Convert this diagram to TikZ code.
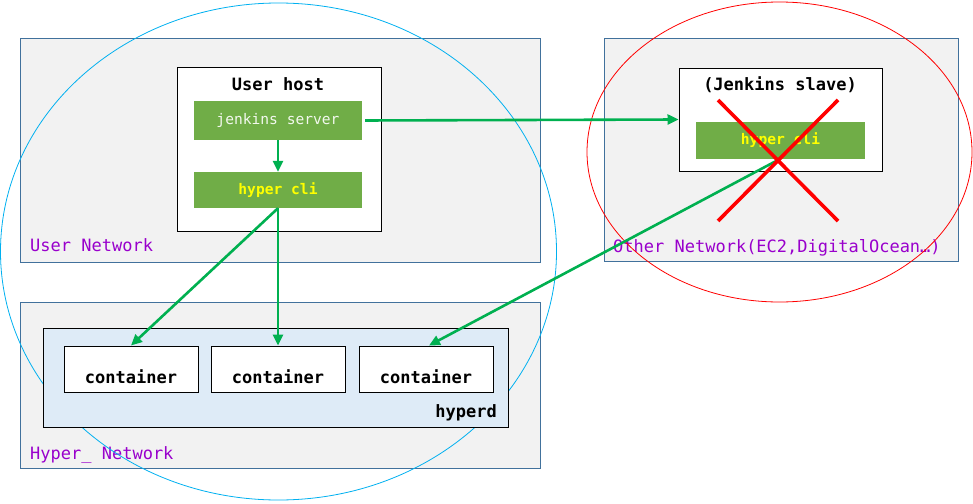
\documentclass[tikz,border=0pt]{standalone}
\usepackage{fontspec}
\setmonofont{DejaVu Sans Mono}
\usetikzlibrary{arrows.meta}
\definecolor{netfill}{HTML}{F2F2F2}
\definecolor{netdraw}{HTML}{41719C}
\definecolor{grn}{HTML}{70AD47}
\definecolor{arr}{HTML}{00B050}
\definecolor{purp}{HTML}{9900CC}
\definecolor{hypfill}{HTML}{DEEBF7}
\definecolor{cyanell}{HTML}{00B0F0}
\definecolor{lightw}{HTML}{F2F8EE}
\definecolor{yel}{HTML}{FFFF00}
\tikzset{
  net/.style={draw=netdraw, fill=netfill, line width=0.9pt, inner sep=0pt},
  whitebox/.style={draw=black, fill=white, line width=1pt, inner sep=0pt},
  greenbox/.style={fill=grn, inner sep=0pt},
  netlabel/.style={anchor=base west, text=purp, font=\ttfamily\fontsize{17}{20}\selectfont, inner sep=0pt},
  boldtxt/.style={font=\ttfamily\bfseries\fontsize{17}{20}\selectfont, inner sep=0pt},
  flow/.style={draw=arr, line width=2.6pt, -{Triangle[length=11pt,width=10pt]}},
  cross/.style={draw=red, line width=3.6pt},
}
\begin{document}
\begin{tikzpicture}[x=1pt,y=-1pt]
\useasboundingbox (0,0) rectangle (973,503);
% networks
\node[net, minimum width=520pt, minimum height=224pt] (usernet) at (280,150) {};
\node[net, minimum width=354pt, minimum height=223pt] (othernet) at (781,149.5) {};
\node[net, minimum width=520pt, minimum height=166pt] (hypernet) at (280,385) {};
\node[netlabel] (usernetl) at (30,251) {User Network};
\node[netlabel] (othernetl) at (613,252) {Other Network(EC2,DigitalOcean…)};
\node[netlabel] (hypernetl) at (30,459) {Hyper\_ Network};
% ellipses
\draw[cyanell, line width=0.8pt] (278.5,251.5) ellipse [x radius=278, y radius=248.5];
\draw[red, line width=0.8pt] (779.5,152) ellipse [x radius=192.5, y radius=150];
% user host
\node[whitebox, minimum width=204pt, minimum height=164pt] (userhost) at (279,149) {};
\node[boldtxt] (userhostl) at (278,84) {User host};
\node[greenbox, minimum width=168pt, minimum height=39pt, text=lightw, font=\ttfamily\fontsize{14.6}{17}\selectfont] (js) at (278,120.5) {jenkins server};
\node[greenbox, minimum width=168pt, minimum height=36pt, text=yel, font=\ttfamily\bfseries\fontsize{14.6}{17}\selectfont] (hc) at (278,190) {hyper cli};
% jenkins slave
\node[whitebox, minimum width=203pt, minimum height=103pt] (slave) at (780.5,119.5) {};
\node[boldtxt] (slavel) at (780,85) {(Jenkins slave)};
\node[greenbox, minimum width=169pt, minimum height=37pt, text=yel, font=\ttfamily\bfseries\fontsize{14.6}{17}\selectfont] (hc2) at (780.5,140.5) {hyper cli};
% hyperd
\node[whitebox, fill=hypfill, minimum width=465pt, minimum height=99pt] (hyperd) at (275.5,377.5) {};
\node[boldtxt, anchor=base east] (hyperdl) at (497,417) {hyperd};
\node[whitebox, minimum width=134pt, minimum height=46pt] (c1) at (131,369) {};
\node[whitebox, minimum width=134pt, minimum height=46pt] (c2) at (278,369) {};
\node[whitebox, minimum width=134pt, minimum height=46pt] (c3) at (426,369) {};
\node[boldtxt] (c1l) at (131,377) {container};
\node[boldtxt] (c2l) at (278,377) {container};
\node[boldtxt] (c3l) at (426,377) {container};
% arrows
\draw[flow] (js.south) -- (hc.north);
\draw[flow, shorten <=3pt] (js.east) -- (slave.west);
\draw[flow] (hc.south) -- (c1.north);
\draw[flow] (hc.south) -- (c2.north);
\coordinate (xc) at (778,160);
\draw[flow] (xc) -- ([xshift=3pt]c3.north);
% red cross
\coordinate (xa) at (718,100);
\coordinate (xb) at (838,221);
\coordinate (xd) at (838,100);
\coordinate (xe) at (718,221);
\draw[cross] (xa) -- (xb);
\draw[cross] (xd) -- (xe);
\end{tikzpicture}
\end{document}
